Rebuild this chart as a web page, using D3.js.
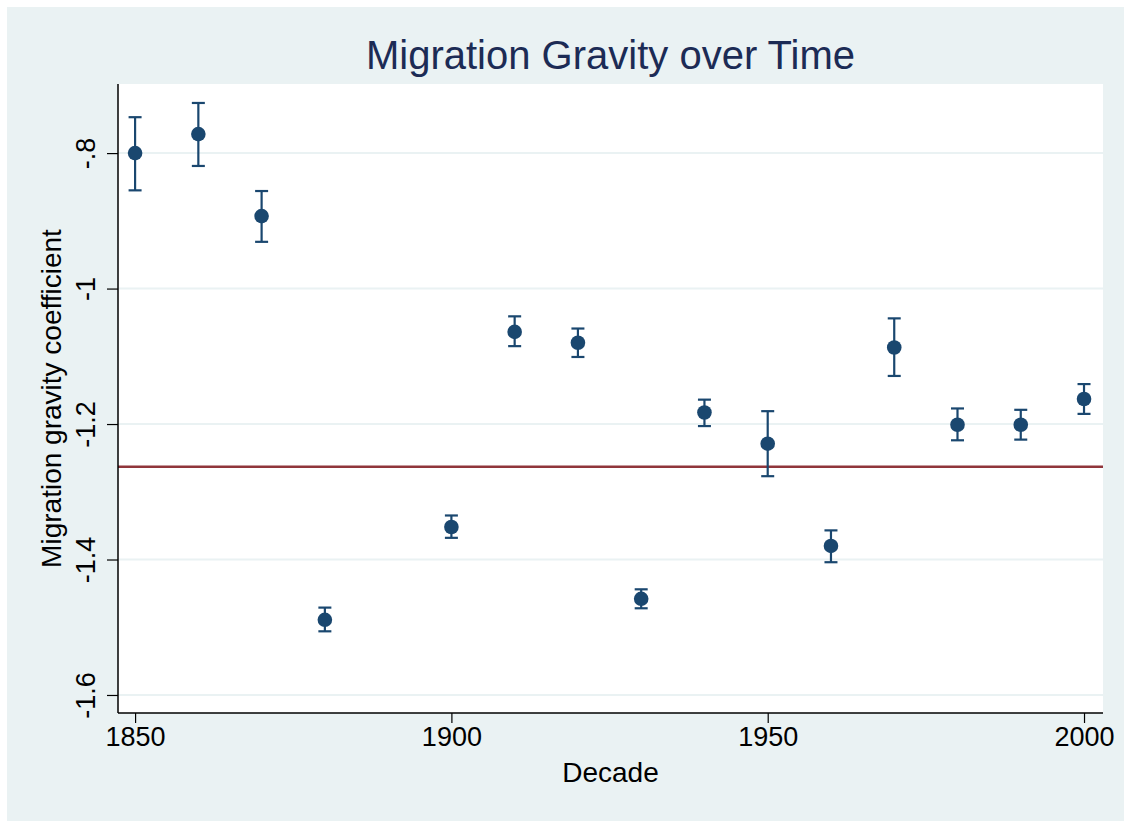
<!DOCTYPE html>
<html>
<head>
<meta charset="utf-8">
<script src="https://cdn.jsdelivr.net/npm/d3@7"></script>
<style>
  body { margin: 0; background: #fff; }
  text { font-family: "Liberation Sans", Arial, sans-serif; }
</style>
</head>
<body>
<div id="chart"></div>
<script>
// decades and point estimates with 95% bounds
var decades = [1850, 1860, 1870, 1880, 1900, 1910, 1920, 1930, 1940, 1950, 1960, 1970, 1980, 1990, 2000];
var coef  = [-0.800, -0.772, -0.893, -1.489, -1.352, -1.064, -1.080, -1.458, -1.183, -1.229, -1.380, -1.087, -1.201, -1.201, -1.163];
var upper = [-0.747, -0.726, -0.856, -1.471, -1.335, -1.041, -1.059, -1.444, -1.164, -1.181, -1.357, -1.044, -1.177, -1.179, -1.141];
var lower = [-0.855, -0.819, -0.931, -1.506, -1.368, -1.085, -1.101, -1.472, -1.203, -1.277, -1.404, -1.129, -1.224, -1.223, -1.185];
var refLine = -1.263;

var xTicks = [1850, 1900, 1950, 2000];
var yTicks = [-0.8, -1, -1.2, -1.4, -1.6];
var yTickLabels = ["-.8", "-1", "-1.2", "-1.4", "-1.6"];

var width = 1124,
  height = 821,
  plot = { left: 118, top: 84, right: 1103, bottom: 713 };

var svg = d3.select("#chart").append("svg")
  .attr("width", width)
  .attr("height", height);

// outer graph region
svg.append("rect")
  .attr("x", 7).attr("y", 7)
  .attr("width", width - 7).attr("height", height - 7)
  .attr("fill", "#eaf2f3");

svg.append("rect")
  .attr("x", plot.left).attr("y", plot.top)
  .attr("width", plot.right - plot.left)
  .attr("height", plot.bottom - plot.top)
  .attr("fill", "#ffffff");

var x = d3.scaleLinear()
  .domain([1847.3, 2003])
  .range([plot.left, plot.right]);

var y = d3.scaleLinear()
  .domain([-1.6266, -0.698])
  .range([plot.bottom, plot.top]);

// gridlines
svg.append("g")
  .selectAll("line")
  .data(yTicks)
  .enter().append("line")
  .attr("x1", plot.left).attr("x2", plot.right)
  .attr("y1", d => y(d)).attr("y2", d => y(d))
  .attr("stroke", "#eaf2f3")
  .attr("stroke-width", 2);

// reference line
svg.append("line")
  .attr("x1", plot.left).attr("x2", plot.right)
  .attr("y1", y(refLine)).attr("y2", y(refLine))
  .attr("stroke", "#90353b")
  .attr("stroke-width", 2.5);

// y axis
var yAxis = svg.append("g")
  .attr("transform", "translate(" + plot.left + ",0)")
  .call(d3.axisLeft(y).tickValues(yTicks).tickSize(11).tickFormat((d, i) => yTickLabels[i]));
yAxis.select(".domain").attr("d", "M0," + plot.top + "V" + plot.bottom).attr("stroke", "#000").attr("stroke-width", 1.5);
yAxis.selectAll(".tick line").attr("stroke", "#000").attr("stroke-width", 1.2);
yAxis.selectAll(".tick text")
  .attr("font-size", 27)
  .attr("fill", "#000")
  .attr("text-anchor", "middle")
  .attr("x", 0).attr("dy", 0)
  .attr("transform", "translate(-23,0) rotate(-90)");

// x axis
var xAxis = svg.append("g")
  .attr("transform", "translate(0," + plot.bottom + ")")
  .call(d3.axisBottom(x).tickValues(xTicks).tickSize(10).tickFormat(d3.format("d")));
xAxis.select(".domain").attr("d", "M" + plot.left + ",0H" + plot.right).attr("stroke", "#000").attr("stroke-width", 1.5);
xAxis.selectAll(".tick line").attr("stroke", "#000").attr("stroke-width", 1.2);
xAxis.selectAll(".tick text")
  .attr("font-size", 27)
  .attr("fill", "#000")
  .attr("y", 14).attr("dy", "0.71em");

// error bars
var bars = svg.append("g").selectAll("g")
  .data(decades)
  .enter().append("g")
  .attr("stroke", "#1a476f")
  .attr("stroke-width", 2.2);

bars.append("line")
  .attr("x1", d => x(d)).attr("x2", d => x(d))
  .attr("y1", (d, i) => y(upper[i])).attr("y2", (d, i) => y(lower[i]));
bars.append("line")
  .attr("x1", d => x(d) - 6.5).attr("x2", d => x(d) + 6.5)
  .attr("y1", (d, i) => y(upper[i])).attr("y2", (d, i) => y(upper[i]));
bars.append("line")
  .attr("x1", d => x(d) - 6.5).attr("x2", d => x(d) + 6.5)
  .attr("y1", (d, i) => y(lower[i])).attr("y2", (d, i) => y(lower[i]));

// points
svg.append("g").selectAll("circle")
  .data(decades)
  .enter().append("circle")
  .attr("cx", d => x(d))
  .attr("cy", (d, i) => y(coef[i]))
  .attr("r", 7.3)
  .attr("fill", "#1a476f");

// titles
svg.append("text")
  .attr("x", (plot.left + plot.right) / 2)
  .attr("y", 69)
  .attr("text-anchor", "middle")
  .attr("font-size", 40)
  .attr("fill", "#1c2b55")
  .text("Migration Gravity over Time");

svg.append("text")
  .attr("x", (plot.left + plot.right) / 2)
  .attr("y", 782)
  .attr("text-anchor", "middle")
  .attr("font-size", 28)
  .attr("fill", "#000")
  .text("Decade");

svg.append("text")
  .attr("transform", "translate(61," + (plot.top + plot.bottom) / 2 + ") rotate(-90)")
  .attr("text-anchor", "middle")
  .attr("font-size", 28)
  .attr("fill", "#000")
  .text("Migration gravity coefficient");
</script>
</body>
</html>
